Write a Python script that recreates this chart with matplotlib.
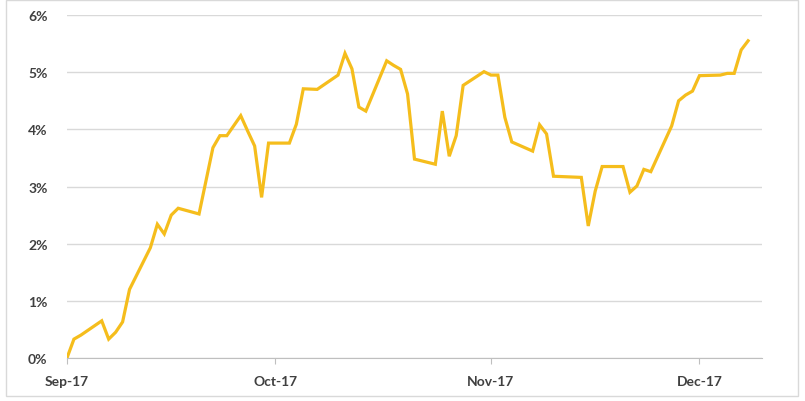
import matplotlib
matplotlib.use("Agg")
import matplotlib.pyplot as plt
import matplotlib.dates as mdates
from matplotlib.ticker import PercentFormatter
import pandas as pd

# daily returns (day offset from 1 Sep 2017, value in %)
day_offsets = [0, 1, 2, 5, 6, 7, 8, 9, 12, 13, 14, 15, 16, 19, 21, 22, 23,
               25, 26, 27, 28, 29, 32, 33, 34, 36, 39, 40, 41, 42, 43, 46,
               47, 48, 49, 50, 53, 54, 55, 56, 57, 60, 61, 62, 63, 64, 67,
               68, 69, 70, 74, 75, 76, 77, 80, 81, 82, 83, 84, 87, 88, 89,
               90, 91, 94, 95, 96, 97, 98]
returns_pct = [0.00, 0.33, 0.40, 0.65, 0.33, 0.45, 0.63, 1.20, 1.93, 2.34,
               2.17, 2.50, 2.62, 2.52, 3.68, 3.89, 3.89, 4.24, 3.97, 3.71,
               2.81, 3.76, 3.76, 4.09, 4.71, 4.70, 4.95, 5.33, 5.06, 4.39,
               4.32, 5.20, 5.12, 5.05, 4.62, 3.48, 3.39, 4.32, 3.53, 3.89,
               4.77, 5.01, 4.95, 4.95, 4.21, 3.78, 3.62, 4.08, 3.92, 3.18,
               3.16, 2.31, 2.92, 3.35, 3.35, 2.90, 3.01, 3.30, 3.26, 4.06,
               4.50, 4.60, 4.67, 4.94, 4.95, 4.98, 4.98, 5.39, 5.55]

start = pd.Timestamp("2017-09-01")
dates = [start + pd.Timedelta(days=d) for d in day_offsets]
values = [v / 100 for v in returns_pct]

plt.rcParams['font.family'] = ['Lato', 'DejaVu Sans']

fig = plt.figure(figsize=(8.05, 4.02), dpi=100)
ax = fig.add_axes([0.0832, 0.107, 0.8634, 0.853])

ax.plot(dates, values, color='#F5BD1C', linewidth=2.3, solid_joinstyle='miter')

ax.set_ylim(0, 0.06)
ax.set_yticks([0, 0.01, 0.02, 0.03, 0.04, 0.05, 0.06])
ax.yaxis.set_major_formatter(PercentFormatter(1.0, decimals=0))
ax.set_xlim(pd.Timestamp("2017-09-01"), pd.Timestamp("2017-12-10"))
ax.xaxis.set_major_locator(mdates.MonthLocator())
ax.xaxis.set_major_formatter(mdates.DateFormatter('%b-%y'))

ax.grid(axis='y', color='#D9D9D9', linewidth=1)
ax.set_axisbelow(True)
for side in ['top', 'right', 'left']:
    ax.spines[side].set_visible(False)
ax.spines['bottom'].set_color('#BFBFBF')
ax.tick_params(axis='y', length=0, pad=14, labelsize=10, labelcolor='#404040')
ax.tick_params(axis='x', length=4, color='#BFBFBF', pad=8, labelsize=10,
               labelcolor='#404040')
for lab in ax.get_xticklabels() + ax.get_yticklabels():
    lab.set_fontweight('bold')

# outer chart border
border = plt.Rectangle((0.007, 0.012), 0.984, 0.985, transform=fig.transFigure,
                       fill=False, edgecolor='#D9D9D9', linewidth=1)
fig.patches.append(border)

fig.savefig('out.png', dpi=100)
